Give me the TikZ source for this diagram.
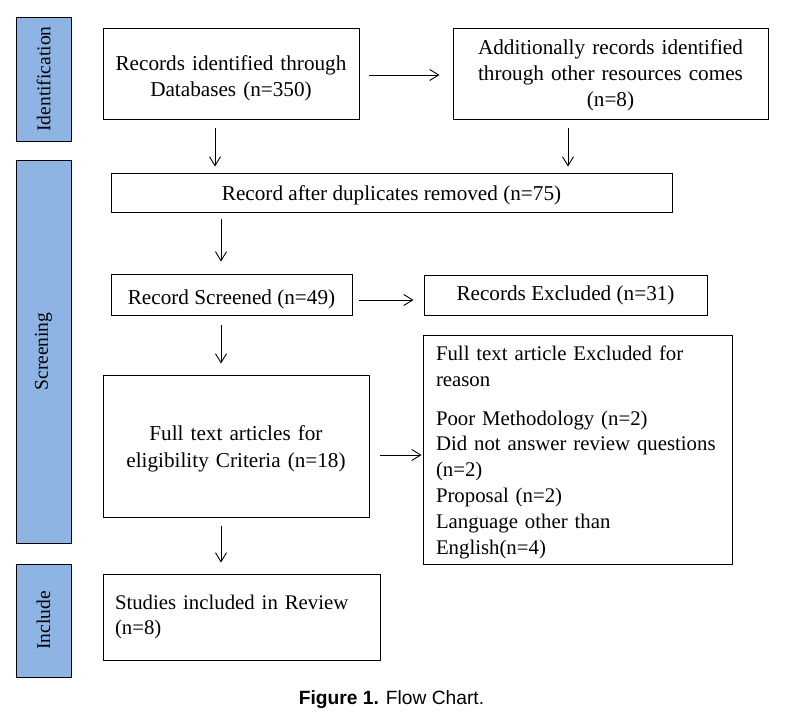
\documentclass[tikz,border=0pt]{standalone}
\usepackage{fontspec}
\setmainfont{Liberation Serif}
\newfontfamily\capfont{Liberation Sans}
\usetikzlibrary{arrows.meta}
\definecolor{barblue}{HTML}{8EB4E3}
\tikzset{
  box/.style={draw=black, line width=0.9pt, inner sep=0pt, align=center,
    font=\fontsize{21.2}{26.3}\selectfont},
  lbox/.style={box, align=left, font=\fontsize{20.8}{25.8}\selectfont},
  dn/.style={execute at begin node={\rule{0pt}{#1}}},
  bar/.style={draw=black, line width=0.9pt, fill=barblue, inner sep=0pt,
    rotate=90, minimum height=55pt, font=\fontsize{19.5}{23}\selectfont},
  arr/.style={draw=black, line width=0.9pt, -{Straight Barb[length=9pt,width=11pt]}},
}
\begin{document}
\begin{tikzpicture}[x=1pt,y=-1pt]
\useasboundingbox (0,0) rectangle (800,717);
% side bars
\node[bar, minimum width=124pt] (idbar) at (43.5,79) {Identification};
\node[bar, minimum width=383pt] (scbar) at (43.5,351.5) {Screening};
\node[bar, minimum width=113pt] (inbar) at (43.5,620.5) {Include};
% boxes
\node[box, dn=24.5pt, text width=250pt, minimum width=256pt, minimum height=91pt] (b1) at (231,73.5)
  {Records identified through\\Databases (n=350)};
\node[box, dn=18.5pt, text width=310pt, minimum width=315pt, minimum height=91pt] (b2) at (610.5,73.5)
  {Additionally records identified\\through other resources comes\\(n=8)};
\node[box, dn=20.5pt, minimum width=561pt, minimum height=39pt] (dup) at (391.5,192.5)
  {Record after duplicates removed (n=75)};
\node[box, dn=24.5pt, minimum width=241pt, minimum height=41pt] (scr) at (231.5,294.5)
  {Record Screened (n=49)};
\node[box, minimum width=283pt, minimum height=40pt] (exc) at (565.5,295)
  {Records Excluded (n=31)};
\node[box, dn=20.5pt, text width=260pt, minimum width=266pt, minimum height=142pt] (ft) at (236,446)
  {Full text articles for\\eligibility Criteria (n=18)};
\node[lbox, dn=20pt, text width=283pt, inner xsep=13pt, minimum height=229pt] (rsn) at (577.5,449.5)
  {Full text article Excluded for\\reason\\[13pt]Poor Methodology (n=2)\\Did not answer review questions\\(n=2)\\Proposal (n=2)\\Language other than\\English(n=4)};
\node[lbox, text width=253pt, inner xsep=12pt, minimum height=86pt] (st) at (241.5,617)
  {Studies included in Review\\(n=8)};
% caption
\node[font=\capfont\fontsize{19.2}{22}\selectfont, inner sep=0pt] (cap) at (391.5,700)
  {\textbf{Figure 1.} Flow Chart.};
% arrow guide coordinates
\coordinate (xa) at (215,0);
\coordinate (xb) at (568,0);
\coordinate (xc) at (221,0);
\coordinate (ya) at (0,75);
\coordinate (yb) at (0,300);
\coordinate (yc) at (0,455);
% connectors
\draw[arr, shorten <=10pt, shorten >=13pt] (b1.east |- ya) -- (b2.west |- ya);
\draw[arr, shorten <=9pt, shorten >=6pt] (b1.south -| xa) -- (dup.north -| xa);
\draw[arr, shorten <=9pt, shorten >=6pt] (b2.south -| xb) -- (dup.north -| xb);
\draw[arr, shorten <=7pt, shorten >=12pt] (dup.south -| xc) -- (scr.north -| xc);
\draw[arr, shorten <=7pt, shorten >=10pt] (scr.east |- yb) -- (exc.west |- yb);
\draw[arr, shorten <=10pt, shorten >=11pt] (scr.south -| xc) -- (ft.north -| xc);
\draw[arr, shorten <=11pt, shorten >=1pt] (ft.east |- yc) -- (rsn.west |- yc);
\draw[arr, shorten <=9pt, shorten >=11pt] (ft.south -| xc) -- (st.north -| xc);
\end{tikzpicture}
\end{document}
